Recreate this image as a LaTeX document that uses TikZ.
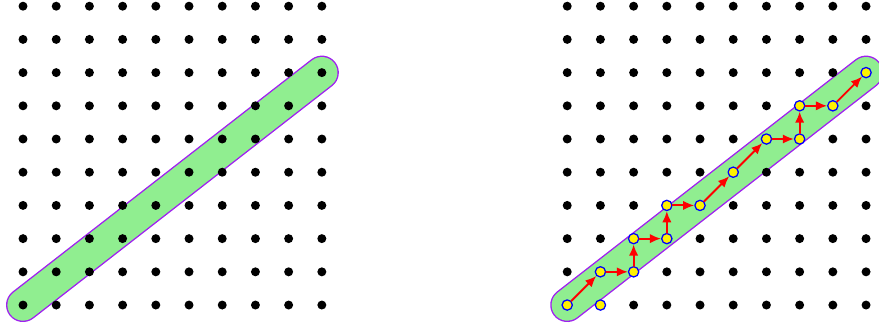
\documentclass[tikz,border=0pt]{standalone}
\usetikzlibrary{arrows.meta}

\definecolor{bandfill}{HTML}{90EE90}
\definecolor{bandline}{HTML}{A020F0}

\begin{document}
\begin{tikzpicture}[
		line cap=round, line join=round,
		>=Latex,
		griddot/.style={circle, fill=black, inner sep=0pt, minimum size=0.27cm},
		pixel/.style={circle, draw=blue, fill=yellow, line width=1.1pt, inner sep=0pt, minimum size=0.31cm},
		stepline/.style={red, line width=1.6pt, -{Latex[length=9.5pt,width=8pt]}}
		]
		
		% ---------- Parameters ----------
		\def\N{9}         % last grid index
		\def\dx{16.39}    % shift of second grid
		\def\rband{0.47}  % half width of band
		
		\useasboundingbox (-0.693,-0.723) rectangle (25.78,9.187);
		
		% ---------- Left: band over grid ----------
		\coordinate (A0) at (0,0);
		\coordinate (A1) at (9,7);
		\draw[bandline, line width={2*\rband cm+2.4pt}] (A0) -- (A1);
		\draw[bandfill, line width={2*\rband cm}] (A0) -- (A1);
		\foreach \i in {0,...,\N}
		\foreach \j in {0,...,\N}
		\node[griddot] at (\i,\j) {};
		
		% ---------- Right: band, grid and digital line ----------
		\begin{scope}[shift={(\dx,0)}]
			\coordinate (B0) at (0,0);
			\coordinate (B1) at (9,7);
			\draw[bandline, line width={2*\rband cm+2.4pt}] (B0) -- (B1);
			\draw[bandfill, line width={2*\rband cm}] (B0) -- (B1);
			\foreach \i in {0,...,\N}
			\foreach \j in {0,...,\N}
			\node[griddot] at (\i,\j) {};
			
			% pixels inside the band
			\foreach \i/\j in {0/0,1/0,1/1,2/1,2/2,3/2,3/3,4/3,5/4,6/5,7/5,7/6,8/6,9/7}
			\node[pixel] (q\i\j) at (\i,\j) {};
			
			% steps of the path
			\foreach \a/\b in {q00/q11,q11/q21,q21/q22,q22/q32,q32/q33,q33/q43,
				q43/q54,q54/q65,q65/q75,q75/q76,q76/q86,q86/q97}
			\draw[stepline] (\a) -- (\b);
		\end{scope}
		
	\end{tikzpicture}
\end{document}
